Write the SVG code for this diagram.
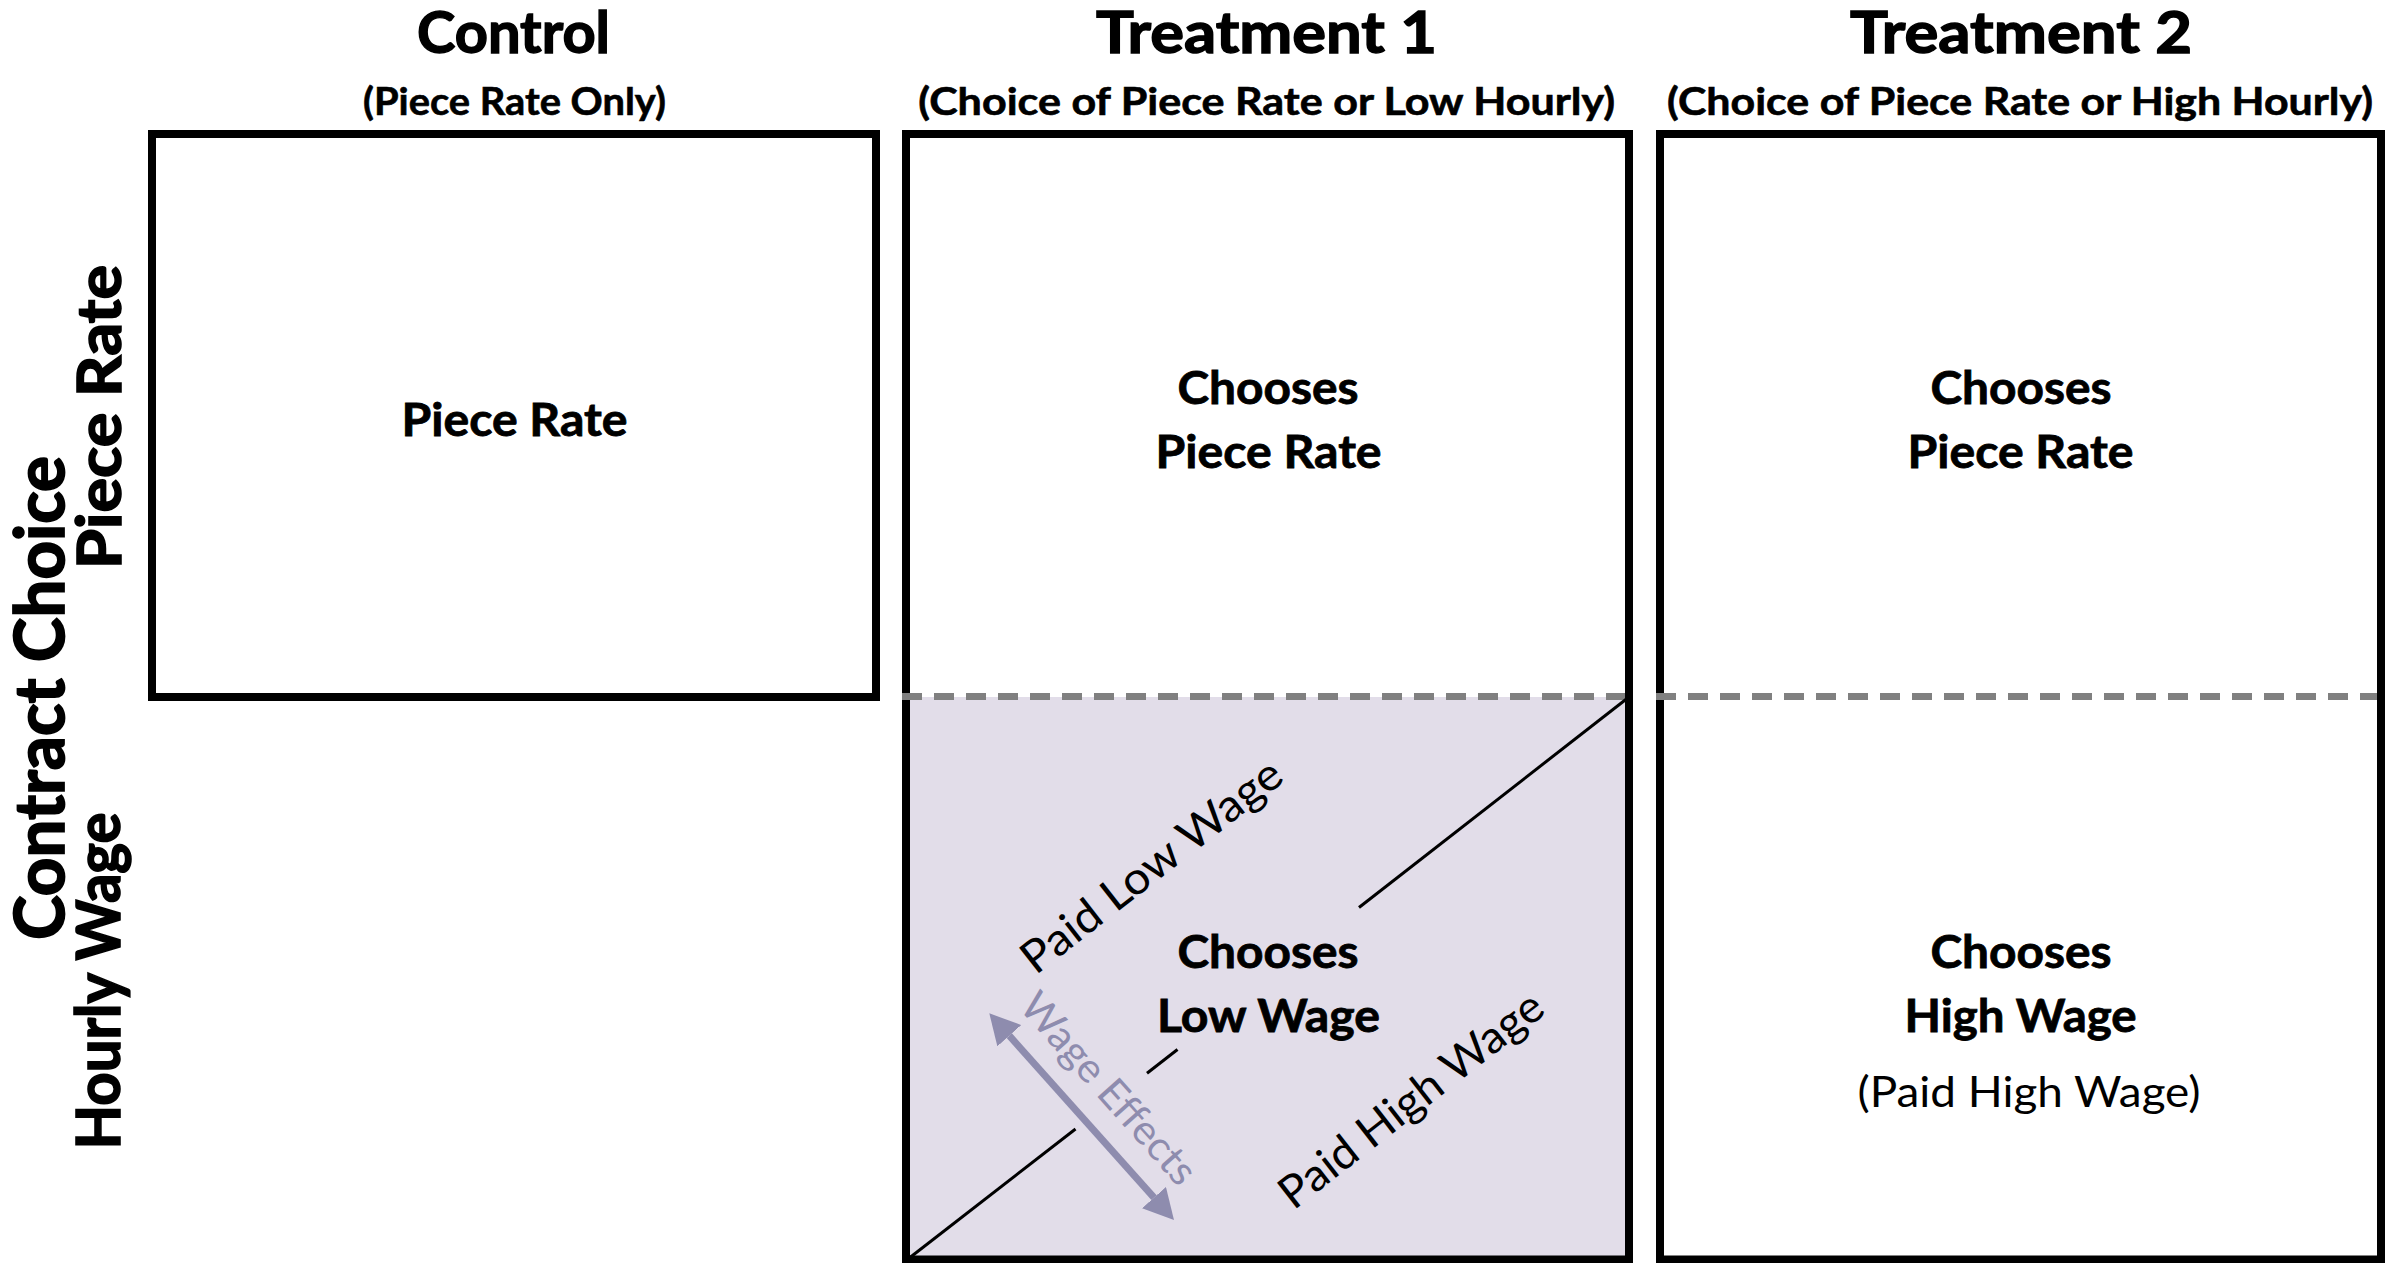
<svg xmlns="http://www.w3.org/2000/svg" width="2403" height="1263" viewBox="0 0 2403 1263">
  <defs>
    <style>
      .box { fill: none; stroke: #000; stroke-width: 8; }
      .t { font-family: Lato, "Liberation Sans", sans-serif; fill: #000; text-anchor: middle; }
      .title { font-size: 57px; font-weight: 700; stroke: #000; stroke-width: 1.4px; }
      .sub { font-size: 38px; font-weight: 700; stroke: #000; stroke-width: 0.6px; }
      .cell { font-size: 46px; font-weight: 700; stroke: #000; stroke-width: 0.8px; }
      .side { font-size: 61px; font-weight: 700; stroke: #000; stroke-width: 1.6px; }
      .side2 { font-size: 68px; font-weight: 700; stroke: #000; stroke-width: 1.8px; }
      .diag { font-size: 45px; font-weight: 400; }
      .note { font-size: 42px; font-weight: 400; }
      .we { font-size: 41px; font-weight: 400; fill: #8E8CAE; }
      .dash { stroke: #808080; stroke-width: 7; stroke-dasharray: 20 12; fill: none; }
      .split { stroke: #000; stroke-width: 3; fill: none; }
      .arrow { stroke: #8E8CAE; stroke-width: 7; fill: none; }
    </style>
    <marker id="ah" markerUnits="userSpaceOnUse" markerWidth="32" markerHeight="32" refX="0" refY="16" orient="auto-start-reverse">
      <path d="M0,0 L30,16 L0,32 Z" fill="#8E8CAE"/>
    </marker>
  </defs>
  <rect width="2403" height="1263" fill="#fff"/>

  <!-- Column headers -->
  <g id="header-control">
    <text class="t title" x="513.5" y="52.5" textLength="193" lengthAdjust="spacingAndGlyphs">Control</text>
    <text class="t sub" x="514.5" y="115" textLength="303" lengthAdjust="spacingAndGlyphs">(Piece Rate Only)</text>
  </g>
  <g id="header-t1">
    <text class="t title" x="1266.5" y="52.5" textLength="341" lengthAdjust="spacingAndGlyphs">Treatment 1</text>
    <text class="t sub" x="1266.7" y="115" textLength="697" lengthAdjust="spacingAndGlyphs">(Choice of Piece Rate or Low Hourly)</text>
  </g>
  <g id="header-t2">
    <text class="t title" x="2021" y="52.5" textLength="342" lengthAdjust="spacingAndGlyphs">Treatment 2</text>
    <text class="t sub" x="2020" y="115" textLength="706" lengthAdjust="spacingAndGlyphs">(Choice of Piece Rate or High Hourly)</text>
  </g>

  <!-- Row labels -->
  <g id="label-contract-choice">
    <text class="t side2" transform="translate(64,698) rotate(-90)" x="0" y="0" textLength="484" lengthAdjust="spacingAndGlyphs">Contract Choice</text>
  </g>
  <g id="label-piece-rate">
    <text class="t side" transform="translate(121,417) rotate(-90)" x="0" y="0" textLength="304" lengthAdjust="spacingAndGlyphs">Piece Rate</text>
  </g>
  <g id="label-hourly-wage">
    <text class="t side" transform="translate(120,981) rotate(-90)" x="0" y="0" textLength="337" lengthAdjust="spacingAndGlyphs">Hourly Wage</text>
  </g>

  <!-- Control box -->
  <g id="control">
    <rect class="box" x="152" y="134" width="724" height="563"/>
    <text class="t cell" x="514.5" y="436" textLength="226" lengthAdjust="spacingAndGlyphs">Piece Rate</text>
  </g>

  <!-- Treatment 1 box -->
  <g id="treatment1">
    <rect x="906" y="697" width="723" height="562" fill="#E2DDE9"/>
    <rect class="box" x="906" y="134" width="723" height="1125.5"/>
    <text class="t cell" x="1268" y="404" textLength="181" lengthAdjust="spacingAndGlyphs">Chooses</text>
    <text class="t cell" x="1268.6" y="468" textLength="226" lengthAdjust="spacingAndGlyphs">Piece Rate</text>
  </g>
  <g id="t1-low-wage">
    <text class="t cell" x="1268" y="968" textLength="181" lengthAdjust="spacingAndGlyphs">Chooses</text>
    <text class="t cell" x="1268.5" y="1032" textLength="223" lengthAdjust="spacingAndGlyphs">Low Wage</text>
  </g>
  <g id="t1-paid-low">
    <text class="t diag" transform="translate(1161,878) rotate(-37.94)" x="0" y="0" textLength="318" lengthAdjust="spacingAndGlyphs">Paid Low Wage</text>
  </g>
  <g id="t1-paid-high">
    <text class="t diag" transform="translate(1420.5,1111.8) rotate(-37.94)" x="0" y="0" textLength="322" lengthAdjust="spacingAndGlyphs">Paid High Wage</text>
  </g>

  <!-- Treatment 2 box -->
  <g id="treatment2">
    <rect class="box" x="1660" y="134" width="721" height="1125.5"/>
    <text class="t cell" x="2021" y="404" textLength="181" lengthAdjust="spacingAndGlyphs">Chooses</text>
    <text class="t cell" x="2020.5" y="468" textLength="226" lengthAdjust="spacingAndGlyphs">Piece Rate</text>
    <text class="t cell" x="2021" y="968" textLength="181" lengthAdjust="spacingAndGlyphs">Chooses</text>
    <text class="t cell" x="2020.6" y="1032" textLength="232" lengthAdjust="spacingAndGlyphs">High Wage</text>
    <text class="t note" x="2029" y="1107" textLength="343" lengthAdjust="spacingAndGlyphs">(Paid High Wage)</text>
  </g>

  <!-- Connectors -->
  <g id="connectors">
    <line class="dash" x1="902" y1="696.5" x2="1625" y2="696.5"/>
    <line class="dash" x1="1656" y1="696.5" x2="2377" y2="696.5"/>
    <line class="split" x1="1629" y1="697" x2="1359" y2="907.5"/>
    <line class="split" x1="1177.5" y1="1049.5" x2="1147" y2="1073.3"/>
    <line class="split" x1="1075.5" y1="1129" x2="908" y2="1259"/>
    <line class="arrow" x1="1009.3" y1="1035.7" x2="1154" y2="1197.6" marker-start="url(#ah)" marker-end="url(#ah)"/>
  </g>
  <g id="wage-effects">
    <text class="t we" transform="translate(1098.3,1097.8) rotate(48.2)" x="0" y="0" textLength="242" lengthAdjust="spacingAndGlyphs">Wage Effects</text>
  </g>
</svg>
